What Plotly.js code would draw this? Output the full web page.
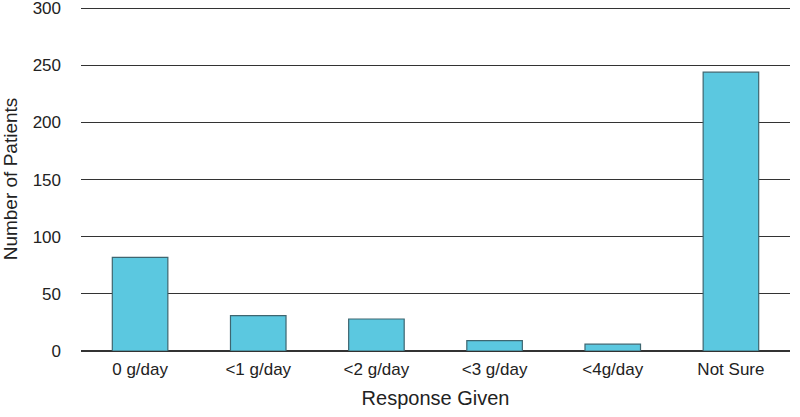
<!DOCTYPE html>
<html>
<head>
<meta charset="utf-8">
<script src="https://cdn.plot.ly/plotly-3.0.1.min.js"></script>
<style>html,body{margin:0;padding:0;background:#fff;}#chart{width:800px;height:417px;}</style>
</head>
<body>
<div id="chart"></div>
<script>
const categories = ["0 g/day", "<1 g/day", "<2 g/day", "<3 g/day", "<4g/day", "Not Sure"];
const patients = [82, 31, 28, 9, 6, 244];
const yTicks = [0, 50, 100, 150, 200, 250, 300];

const trace = {
  type: 'bar',
  x: categories,
  y: patients,
  marker: {color: '#5BC8E0', line: {color: '#3E6670', width: 1.2}},
  hoverinfo: 'x+y'
};

const layout = {
  width: 800, height: 417,
  margin: {l: 81, r: 10, t: 7, b: 66},
  paper_bgcolor: '#fff', plot_bgcolor: '#fff',
  font: {family: '"Liberation Sans", Arial, sans-serif', size: 17, color: '#222'},
  bargap: 0.53,
  showlegend: false,
  xaxis: {
    showgrid: false, zeroline: false, showline: false,
    ticks: '', ticklabelstandoff: 6,
    title: {text: 'Response Given', font: {size: 20, color: '#222'}, standoff: 12}
  },
  yaxis: {
    range: [0, 301], tickvals: yTicks, ticktext: yTicks.map(String),
    showgrid: true, gridcolor: '#333', gridwidth: 1,
    zeroline: true, zerolinecolor: '#333', zerolinewidth: 1.2,
    showline: false, ticks: '', ticklabelstandoff: 19, ticklabeloverflow: 'allow',
    title: {text: 'Number of Patients', font: {size: 19, color: '#222'}, standoff: 14}
  }
};

Plotly.newPlot('chart', [trace], layout, {displayModeBar: false, staticPlot: true});
</script>
</body>
</html>
